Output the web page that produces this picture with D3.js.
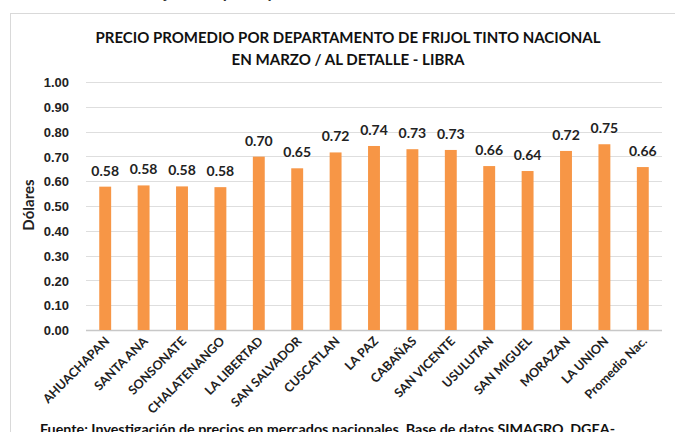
<!DOCTYPE html>
<html>
<head>
<meta charset="utf-8">
<script src="https://cdn.jsdelivr.net/npm/d3@7"></script>
<style>
  body { margin: 0; background: #fff; }
  svg { display: block; font-family: Lato, "Open Sans", sans-serif; }
  .tic-label { font-size: 13px; font-weight: bold; fill: #222; }
  .bar-label { font-size: 14px; font-weight: bold; fill: #222; }
  .cat-label { font-size: 12.5px; font-weight: bold; fill: #222; }
</style>
</head>
<body>
<div id="chart"></div>
<script>
/* Data ************************************************************************/

var departments = ['AHUACHAPAN', 'SANTA ANA', 'SONSONATE', 'CHALATENANGO', 'LA LIBERTAD',
                   'SAN SALVADOR', 'CUSCATLAN', 'LA PAZ', 'CABAÑAS', 'SAN VICENTE',
                   'USULUTAN', 'SAN MIGUEL', 'MORAZAN', 'LA UNION', 'Promedio Nac.'];
var prices = [0.578, 0.583, 0.579, 0.576, 0.699, 0.652, 0.716, 0.742, 0.729, 0.726,
              0.661, 0.641, 0.722, 0.749, 0.657];
var ytick_values = [0, 0.1, 0.2, 0.3, 0.4, 0.5, 0.6, 0.7, 0.8, 0.9, 1.0];

var title_lines = ['PRECIO PROMEDIO POR DEPARTAMENTO DE FRIJOL  TINTO NACIONAL',
                   'EN MARZO / AL DETALLE - LIBRA'];
var y_title = 'Dólares';
var source_note = 'Fuente: Investigación de precios en mercados nacionales. Base de datos SIMAGRO, DGEA-';
var caption = 'Gráfico 9: Precio de frijol tinto por departamento';

/* Chart ***********************************************************************/

function build_chart()
{
    let width = 675,
        height = 432,
        margin = { top: 82, bottom: 102, left: 86, right: 13 };

    let svg = d3.select('#chart').append('svg')
        .attr('width', width)
        .attr('height', height);

    // caption above the chart box, mostly off the top edge
    svg.append('text')
        .attr('x', 6)
        .attr('y', -2)
        .style('font-size', '17px')
        .style('font-weight', 'bold')
        .style('font-style', 'italic')
        .style('fill', '#333')
        .text(caption);

    // chart frame
    svg.append('rect')
        .attr('x', 10.5).attr('y', 13.5)
        .attr('width', 700).attr('height', 500)
        .attr('fill', '#fff')
        .attr('stroke', '#d9d9d9');

    let x = d3.scaleBand()
            .domain(departments)
            .range([margin.left, width - margin.right])
            .paddingInner(0.69)
            .paddingOuter(0.345),
        y = d3.scaleLinear()
            .domain([0, 1])
            .range([height - margin.bottom, margin.top]);

    // gridlines
    svg.append('g').selectAll('line').data(ytick_values).enter()
        .append('line')
        .attr('x1', margin.left).attr('x2', width - margin.right)
        .attr('y1', d => Math.round(y(d)) + 0.5)
        .attr('y2', d => Math.round(y(d)) + 0.5)
        .attr('stroke', d => d === 0 ? '#c8c8c8' : '#dedede')
        .attr('stroke-width', d => d === 0 ? 1.6 : 1);

    // y axis
    let yaxis = svg.append('g')
        .attr('transform', `translate(${margin.left - 14},0)`)
        .call(d3.axisLeft(y).tickValues(ytick_values).tickFormat(d3.format('.2f')).tickSize(0));
    yaxis.select('.domain').remove();
    yaxis.selectAll('text')
        .attr('class', 'tic-label')
        .attr('dy', '0.36em')
        .style('font-family', null);

    // bars
    svg.append('g').selectAll('rect').data(prices).enter()
        .append('rect')
        .attr('x', (d, i) => x(departments[i]))
        .attr('y', d => y(d))
        .attr('width', x.bandwidth())
        .attr('height', d => y(0) - y(d))
        .attr('fill', '#f79646');

    // bar value labels
    svg.append('g').selectAll('text').data(prices).enter()
        .append('text')
        .attr('class', 'bar-label')
        .attr('x', (d, i) => x(departments[i]) + x.bandwidth() / 2)
        .attr('y', d => y(d) - 11)
        .attr('text-anchor', 'middle')
        .text(d => d.toFixed(2));

    // category labels
    svg.append('g').selectAll('text').data(departments).enter()
        .append('text')
        .attr('class', 'cat-label')
        .attr('text-anchor', 'end')
        .attr('transform', d => {
            let cx = x(d) + x.bandwidth() / 2 + 5,
                cy = y(0) + 12;
            return `translate(${cx},${cy}) rotate(-45)`;
        })
        .text(d => d);

    // y title
    let tx = 34, ty = 205;
    svg.append('text')
        .attr('transform', `translate(${tx},${ty}) rotate(-90)`)
        .attr('text-anchor', 'middle')
        .style('font-size', '15px')
        .style('font-weight', 'bold')
        .style('fill', '#222')
        .text(y_title);

    // title
    svg.append('g').selectAll('text').data(title_lines).enter()
        .append('text')
        .attr('x', 348)
        .attr('y', (d, i) => 43 + i * 22)
        .attr('text-anchor', 'middle')
        .attr('textLength', (d, i) => i === 0 ? 505 : 233)
        .attr('lengthAdjust', 'spacingAndGlyphs')
        .style('font-size', '14.5px')
        .style('font-weight', 'bold')
        .style('fill', '#111')
        .text(d => d);

    // source note (touches the bottom edge)
    svg.append('text')
        .attr('x', 40)
        .attr('y', 434)
        .attr('textLength', 575)
        .attr('lengthAdjust', 'spacingAndGlyphs')
        .style('font-size', '12.5px')
        .style('font-weight', 'bold')
        .style('fill', '#111')
        .text(source_note);
}

build_chart();
</script>
</body>
</html>
